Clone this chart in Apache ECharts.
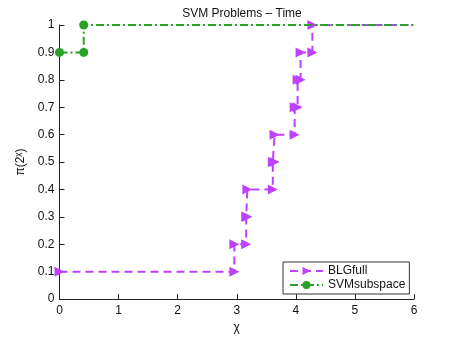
<!DOCTYPE html>
<html>
<head>
<meta charset="utf-8">
<script src="https://cdn.jsdelivr.net/npm/echarts@6/dist/echarts.min.js"></script>
<style>
html, body { margin: 0; padding: 0; background: #fff; }
#chart { width: 457px; height: 339px; }
</style>
</head>
<body>
<div id="chart"></div>
<script>
// performance profile, stair vertices
var blgX = [0, 2.96, 2.96, 3.16, 3.16, 3.18, 3.18, 3.61, 3.61, 3.64, 3.64, 3.98, 3.98, 4.03, 4.03, 4.08, 4.08, 4.28, 4.28, 6];
var blgY = [0.1, 0.1, 0.2, 0.2, 0.3, 0.3, 0.4, 0.4, 0.5, 0.5, 0.6, 0.6, 0.7, 0.7, 0.8, 0.8, 0.9, 0.9, 1.0, 1.0];
var svmX = [0, 0.41, 0.41, 6];
var svmY = [0.9, 0.9, 1.0, 1.0];
var xTicks = [0, 6, 1];
var yTicks = [0, 1, 0.1];

var pink = '#BF40FF';
var green = '#27A127';

function toPoints(xs, ys) {
	var out = [];
	for (var i = 0; i < xs.length; i++) {
		var p = { value: [xs[i], ys[i]] };
		// last vertex runs off the right edge, no marker there
		if (i == xs.length - 1) p.symbol = 'none';
		out.push(p);
	}
	return out;
}

var font = 'Liberation Sans, Arial, sans-serif';
var axisCommon = {
	axisLine: { show: true, lineStyle: { color: '#222', width: 1 } },
	axisTick: { show: true, inside: true, length: 5, lineStyle: { color: '#222' } },
	axisLabel: { color: '#111', fontSize: 12, fontFamily: font },
	splitLine: { show: false }
};

var option = {
	animation: false,
	backgroundColor: '#fff',
	title: {
		text: 'SVM Problems \u2013 Time',
		left: 237, top: 3, textAlign: 'center',
		textStyle: { fontSize: 12, fontWeight: 'normal', color: '#111', fontFamily: font }
	},
	grid: { left: 59.5, right: 43, top: 25, bottom: 39 },
	legend: {
		orient: 'vertical',
		left: 283, top: 262,
		padding: [3, 4, 3, 6],
		itemGap: 2,
		itemWidth: 33, itemHeight: 10,
		backgroundColor: '#fff',
		borderColor: '#333', borderWidth: 1, borderRadius: 0,
		textStyle: { fontSize: 12, color: '#111', fontFamily: font },
		data: ['BLGfull', 'SVMsubspace']
	},
	xAxis: Object.assign({}, axisCommon, {
		type: 'value',
		min: xTicks[0], max: xTicks[1], interval: xTicks[2],
		name: '\u03c7', nameLocation: 'middle', nameGap: 22,
		nameTextStyle: { fontSize: 12, color: '#111', fontFamily: font },
		axisLabel: Object.assign({}, axisCommon.axisLabel, { margin: 6 })
	}),
	yAxis: Object.assign({}, axisCommon, {
		type: 'value',
		min: yTicks[0], max: yTicks[1], interval: yTicks[2],
		name: '{a|\u03c0(2}{s|\u03c7}{a|)}', nameLocation: 'middle', nameGap: 29, nameRotate: 90,
		nameTextStyle: {
			color: '#111', fontFamily: font,
			rich: {
				a: { fontSize: 12, color: '#111', fontFamily: font },
				s: { fontSize: 8, color: '#111', fontFamily: font, verticalAlign: 'top', padding: [0, 0, 6, 0] }
			}
		},
		axisLabel: Object.assign({}, axisCommon.axisLabel, { margin: 5 })
	}),
	series: [
		{
			name: 'BLGfull',
			type: 'line',
			data: toPoints(blgX, blgY),
			symbol: 'triangle',
			symbolSize: 10,
			symbolRotate: -90,
			showAllSymbol: true,
			clip: true,
			color: pink,
			itemStyle: { color: pink },
			lineStyle: { color: pink, width: 2, type: [8, 5] },
			z: 2
		},
		{
			name: 'SVMsubspace',
			type: 'line',
			data: toPoints(svmX, svmY),
			symbol: 'circle',
			symbolSize: 9,
			showAllSymbol: true,
			clip: true,
			color: green,
			itemStyle: { color: green },
			lineStyle: { color: green, width: 2, type: [8, 3, 2, 3] },
			z: 3
		}
	]
};

var chart = echarts.init(document.getElementById('chart'), null, { renderer: 'canvas' });
chart.setOption(option);
</script>
</body>
</html>
